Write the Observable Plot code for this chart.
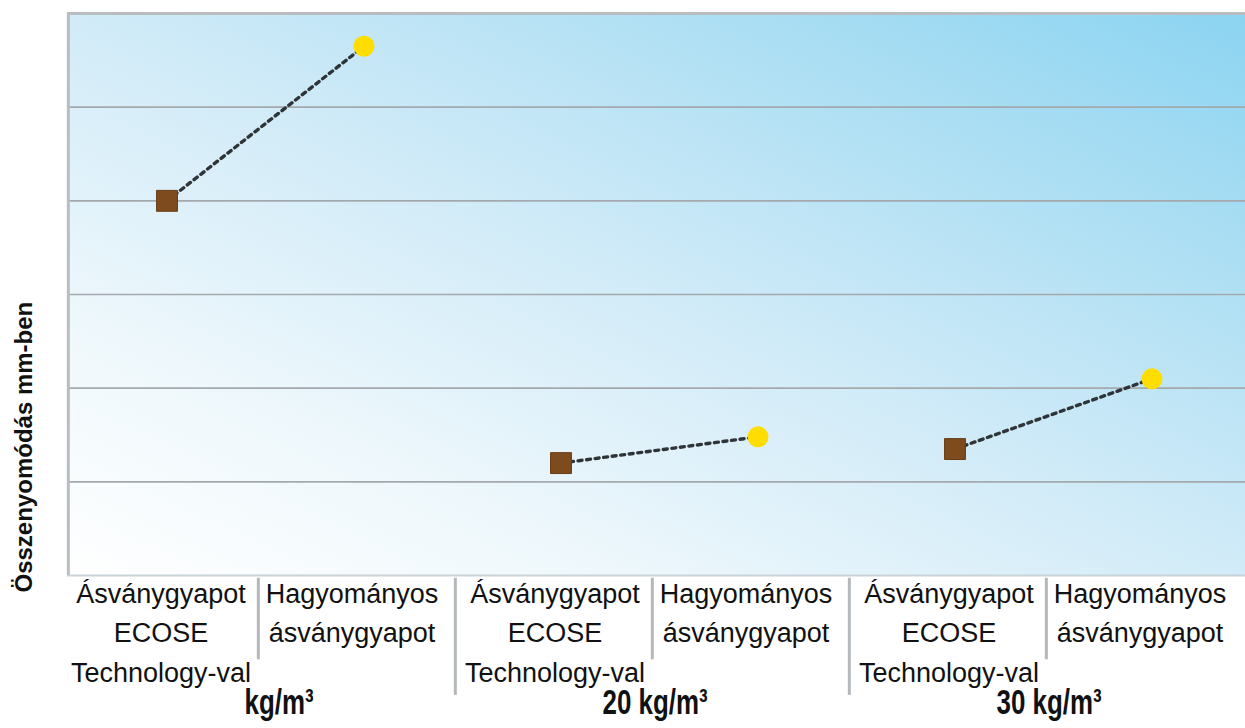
<!DOCTYPE html>
<html>
<head>
<meta charset="utf-8">
<script src="https://cdn.jsdelivr.net/npm/d3@7"></script>
<script src="https://cdn.jsdelivr.net/npm/@observablehq/plot@0.6"></script>
<style>
  html, body { margin: 0; padding: 0; background: #ffffff; }
  #chart { width: 1245px; height: 728px; overflow: hidden; }
  svg { display: block; }
</style>
</head>
<body>
<div id="chart"></div>
<script>
// ---- data ----
const groups = ["kg/m³", "20 kg/m³", "30 kg/m³"];
const products = ["Ásványgyapot\nECOSE\nTechnology-val", "Hagyományos\násványgyapot"];
const ecoseValues = [4.0, 1.2, 1.35];      // brown squares
const standardValues = [5.65, 1.48, 2.1];  // yellow circles
const gridValues = [1, 2, 3, 4, 5];
const yDomain = [0, 6];
const yLabel = "Összenyomódás mm-ben";

// ---- derived table ----
const rows = [];
groups.forEach((g, i) => {
  rows.push({key: `${i}-0`, group: g, product: products[0], value: ecoseValues[i], kind: "ecose"});
  rows.push({key: `${i}-1`, group: g, product: products[1], value: standardValues[i], kind: "standard"});
});
const keys = rows.map(d => d.key);
const groupRows = groups.map((g, i) => ({key: `${i}-0`, group: g}));
// separators at left edge of every category except the first
const separators = rows.slice(1).map(d => ({key: d.key, tall: d.key.endsWith("-0")}));

const W = 1245, H = 728;
const mL = 67, mR = -6, mT = 13, mB = 153;
const band = (W - mL - mR) / keys.length;

const labelStyle = {frameAnchor: "bottom", lineAnchor: "top", dy: -1, lineHeight: 1.47, fontSize: 27, fill: "#111"};

const plot = Plot.plot({
  width: W,
  height: H,
  marginLeft: mL,
  marginRight: mR,
  marginTop: mT,
  marginBottom: mB,
  style: {fontFamily: "'Liberation Sans', Arial, sans-serif", background: "transparent", overflow: "visible"},
  x: {type: "band", domain: keys, padding: 0, axis: null},
  y: {domain: yDomain, axis: null},
  marks: [
    Plot.frame({fill: "url(#bgGrad)", stroke: "none"}),
    Plot.ruleY(gridValues, {stroke: "#a3a9ad", strokeWidth: 1.6}),
    Plot.ruleY([yDomain[0]], {stroke: "#c9d3d8", strokeWidth: 2}),
    Plot.ruleY([yDomain[1]], {stroke: "#b9bdc0", strokeWidth: 3}),
    Plot.ruleX([keys[0]], {dx: -band / 2, stroke: "#b9bdc0", strokeWidth: 3, y1: yDomain[0], y2: yDomain[1]}),
    // category separators below the plot
    Plot.ruleX(separators, {
      x: "key", dx: -band / 2 - 7,
      y1: -0.03, y2: d => d.tall ? -1.28 : -0.9,
      stroke: "#b4b8bb", strokeWidth: 3
    }),
    // dotted connectors
    Plot.line(rows, {x: "key", y: "value", z: "group", stroke: "#2f3438", strokeWidth: 3.4, strokeDasharray: "4,4.6"}),
    Plot.dot(rows.filter(d => d.kind === "ecose"), {x: "key", y: "value", symbol: "square", r: 11.8, fill: "#7d4b1d", stroke: "#6a3e16", strokeWidth: 1}),
    Plot.dot(rows.filter(d => d.kind === "standard"), {x: "key", y: "value", symbol: "circle", r: 10.5, fill: "#ffdd00", stroke: "none"}),
    // category labels
    Plot.text(rows.filter(d => d.kind === "ecose"), {x: "key", text: "product", dx: -6, ...labelStyle}),
    Plot.text(rows.filter(d => d.kind === "standard"), {x: "key", text: "product", dx: -12, ...labelStyle}),
    // group labels
    Plot.text(groupRows, {
      x: "key", text: "group", frameAnchor: "bottom", textAnchor: "end",
      dx: band / 2 + 48, dy: 138, fontSize: 35, fontWeight: "bold", fill: "#111"
    }),
    // y label
    Plot.text([yLabel], {
      text: d => d, frameAnchor: "bottom-left", rotate: -90, textAnchor: "start",
      dx: -36, dy: 17, fontSize: 24, fontWeight: "bold", fill: "#111"
    })
  ]
});

// gradient definition for the plot background
const svg = d3.select(plot);
const defs = svg.insert("defs", ":first-child");
const grad = defs.append("linearGradient")
  .attr("id", "bgGrad")
  .attr("x1", "0").attr("y1", "1").attr("x2", "1").attr("y2", "0");
grad.append("stop").attr("offset", "0").attr("stop-color", "#ffffff");
grad.append("stop").attr("offset", "0.22").attr("stop-color", "#eff8fc");
grad.append("stop").attr("offset", "0.5").attr("stop-color", "#d1ebf8");
grad.append("stop").attr("offset", "0.78").attr("stop-color", "#abdef3");
grad.append("stop").attr("offset", "1").attr("stop-color", "#8bd4f1");

document.getElementById("chart").appendChild(plot);

// condense the bold group labels (reference uses a narrow display face)
svg.selectAll("text").each(function() {
  if (groups.includes(this.textContent)) {
    const len = this.getComputedTextLength();
    d3.select(this).attr("textLength", len * 0.74).attr("lengthAdjust", "spacingAndGlyphs");
  }
});
</script>
</body>
</html>
